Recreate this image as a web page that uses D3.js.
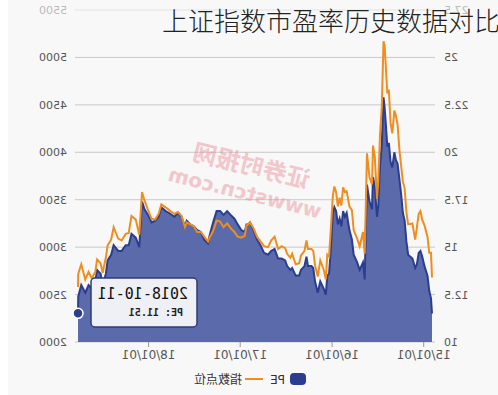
<!DOCTYPE html>
<html>
<head>
<meta charset="utf-8">
<script src="https://cdn.jsdelivr.net/npm/d3@7/dist/d3.min.js"></script>
<style>
  body { margin: 0; background: #ffffff; }
  .chart text { font-family: "DejaVu Sans", sans-serif; }
</style>
</head>
<body>
<div class="chart"></div>
<script>
// Chart data (dates, index points, PE)
var dates = [
  "2014-12-01","2014-12-05","2014-12-12","2014-12-19","2014-12-31","2015-01-09","2015-01-16","2015-01-23",
  "2015-01-30","2015-02-06","2015-02-17","2015-03-06","2015-03-13","2015-03-20","2015-03-27","2015-04-03",
  "2015-04-10","2015-04-17","2015-04-24","2015-04-30","2015-05-08","2015-05-15","2015-05-22","2015-05-28",
  "2015-06-03","2015-06-08","2015-06-12","2015-06-19","2015-06-26","2015-07-03","2015-07-08","2015-07-17",
  "2015-07-24","2015-07-28","2015-08-07","2015-08-17","2015-08-21","2015-08-26","2015-09-02","2015-09-15",
  "2015-09-25","2015-10-09","2015-10-16","2015-10-26","2015-11-06","2015-11-13","2015-11-20","2015-11-27",
  "2015-12-04","2015-12-11","2015-12-18","2015-12-25","2015-12-31","2016-01-08","2016-01-15","2016-01-22",
  "2016-01-28","2016-02-05","2016-02-19","2016-02-29","2016-03-11","2016-03-18","2016-03-25","2016-04-08",
  "2016-04-14","2016-04-22","2016-05-06","2016-05-13","2016-05-27","2016-06-10","2016-06-17","2016-06-30",
  "2016-07-08","2016-07-22","2016-08-05","2016-08-19","2016-09-02","2016-09-14","2016-09-30","2016-10-14",
  "2016-10-28","2016-11-11","2016-11-25","2016-12-02","2016-12-09","2016-12-16","2016-12-30","2017-01-13",
  "2017-01-26","2017-02-10","2017-02-24","2017-03-10","2017-03-24","2017-04-07","2017-04-21","2017-05-05",
  "2017-05-11","2017-05-26","2017-06-09","2017-06-23","2017-07-07","2017-07-21","2017-08-04","2017-08-11",
  "2017-08-25","2017-09-08","2017-09-22","2017-10-13","2017-10-27","2017-11-13","2017-11-24","2017-12-08",
  "2017-12-22","2018-01-05","2018-01-19","2018-01-29","2018-02-09","2018-02-23","2018-03-12","2018-03-23",
  "2018-04-04","2018-04-20","2018-05-04","2018-05-22","2018-06-01","2018-06-15","2018-06-22","2018-07-05",
  "2018-07-13","2018-07-27","2018-08-03","2018-08-17","2018-08-30","2018-09-12","2018-09-28","2018-10-10",
  "2018-10-11"
];

var indexValues = [
  2680,2940,2940,3110,3230,3290,3380,3350,
  3210,3080,3250,3240,3370,3620,3690,3860,
  4030,4290,4390,4440,4200,4310,4660,4620,
  4910,5130,5170,4480,4190,3690,3510,3960,
  4070,3660,3740,3990,3510,2930,3160,3010,
  3090,3180,3390,3430,3590,3580,3630,3440,
  3520,3430,3580,3640,3540,3190,2900,2920,
  2660,2760,2860,2690,2810,2960,2980,2980,
  3070,2960,2910,2830,2820,2930,2890,2930,
  2990,3010,2980,3110,3070,3000,3010,3060,
  3110,3200,3260,3240,3230,3120,3100,3110,
  3160,3200,3250,3210,3270,3280,3170,3100,
  3060,3110,3160,3160,3220,3240,3260,3210,
  3330,3370,3350,3390,3420,3450,3350,3290,
  3300,3390,3490,3580,3130,3290,3330,3150,
  3140,3070,3090,3210,3080,3020,2890,2730,
  2830,2870,2740,2670,2740,2660,2820,2720,
  2580
];

var peValues = [
  11.5,12.3,12.7,13.5,14.0,14.5,14.8,14.7,
  14.1,13.9,14.4,14.6,15.3,16.4,16.8,17.8,
  18.6,19.4,19.6,20.0,19.2,19.5,20.5,20.3,
  21.5,22.4,22.9,20.4,19.3,17.2,16.6,18.2,
  18.7,17.0,17.4,18.3,16.3,13.3,14.2,13.8,
  14.2,14.6,15.4,15.9,16.8,16.6,16.9,16.1,
  16.5,16.2,16.9,17.1,16.8,14.9,13.6,13.5,
  12.5,12.8,13.2,12.6,13.2,13.9,14.0,14.0,
  14.5,14.0,13.8,13.5,13.5,13.9,13.8,14.0,
  14.3,14.4,14.4,14.9,14.8,14.6,14.7,15.1,
  15.4,15.9,16.3,16.2,16.2,15.8,15.9,16.2,
  16.5,16.7,16.9,16.7,16.9,16.9,16.3,15.6,
  15.2,15.4,15.8,15.9,16.1,16.2,16.4,16.1,
  16.6,16.8,16.6,16.8,16.9,17.1,16.6,16.4,
  16.3,16.7,17.0,17.4,15.0,15.5,15.7,15.1,
  15.1,14.8,14.8,15.1,14.6,14.3,13.6,13.0,
  13.6,13.8,13.2,12.8,13.0,12.6,13.0,12.4,
  11.51
];

// Axis ticks
var peTicks = [10, 12.5, 15, 17.5, 20, 22.5, 25, 27.5];
var indexTicks = [2000, 2500, 3000, 3500, 4000, 4500, 5000, 5500];
var dateTicks = ["2015-01-01", "2016-01-01", "2017-01-01", "2018-01-01"];

var title = "上证指数市盈率历史数据对比";
var legendNames = ["PE", "指数点位"];
var tooltipDate = "2018-10-11";

var svgWidth = 498;
var svgHeight = 395;

var parseDate = d3.timeParse("%Y-%m-%d");
var data = dates.map((d, i) => ({ date: parseDate(d), index: indexValues[i], pe: peValues[i] }));

var svg = d3.select(".chart")
  .append("svg")
  .attr("width", svgWidth)
  .attr("height", svgHeight);

// background
svg.append("rect").attr("width", svgWidth).attr("height", svgHeight).attr("fill", "#f8f8f8");
svg.append("rect").attr("width", 8).attr("height", svgHeight).attr("fill", "#ffffff");

// the whole chart is drawn mirrored, title excepted
var chartGroup = svg.append("g")
  .attr("transform", `translate(${svgWidth}, 0) scale(-1, 1)`);

// Scales
var xScale = d3.scaleTime()
  .domain([parseDate("2014-12-01"), parseDate("2018-10-11")])
  .range([66, 420]);
var yPe = d3.scaleLinear().domain([10, 27.5]).range([342, 10]);
var yIndex = d3.scaleLinear().domain([2000, 5500]).range([342, 10]);

// gridlines
chartGroup.selectAll(".grid")
  .data(indexTicks)
  .enter()
  .append("line")
  .attr("x1", 63)
  .attr("x2", 423)
  .attr("y1", d => yIndex(d))
  .attr("y2", d => yIndex(d))
  .attr("stroke", (d, i) => i == indexTicks.length - 1 ? "#e2e2e2" : "#c8c8c8")
  .attr("stroke-width", 1);

// watermark
var mark = chartGroup.append("g")
  .attr("transform", "translate(250, 180) rotate(-14)")
  .attr("fill", "#e98c98")
  .attr("opacity", 0.45);
mark.append("text")
  .attr("x", 0).attr("y", -6)
  .attr("text-anchor", "middle")
  .style("font-family", "Noto Sans CJK SC")
  .style("font-size", "24px")
  .style("font-weight", "bold")
  .text("证券时报网");
mark.append("text")
  .attr("x", 0).attr("y", 20)
  .attr("text-anchor", "middle")
  .style("font-size", "20px")
  .style("font-weight", "bold")
  .text("wwwstcn.com");

// PE area + line
var area = d3.area()
  .x(d => xScale(d.date))
  .y0(yPe(10))
  .y1(d => yPe(d.pe));

chartGroup.append("path")
  .datum(data)
  .attr("d", area)
  .attr("fill", "#5b6aaa");

var peLine = d3.line()
  .x(d => xScale(d.date))
  .y(d => yPe(d.pe));

chartGroup.append("path")
  .datum(data)
  .attr("d", peLine)
  .attr("fill", "none")
  .attr("stroke", "#2b3d90")
  .attr("stroke-width", 2);

// Index line
var indexLine = d3.line()
  .x(d => xScale(d.date))
  .y(d => yIndex(d.index));

chartGroup.append("path")
  .datum(data)
  .attr("d", indexLine)
  .attr("fill", "none")
  .attr("stroke", "#ef8d1f")
  .attr("stroke-width", 2);

// Axes
var leftAxis = d3.axisLeft(yPe).tickValues(peTicks).tickSize(0).tickPadding(9).tickFormat(d3.format("~g"));
var rightAxis = d3.axisRight(yIndex).tickValues(indexTicks).tickSize(0).tickPadding(8).tickFormat(d3.format("d"));
var bottomAxis = d3.axisBottom(xScale)
  .tickValues(dateTicks.map(parseDate))
  .tickSize(5)
  .tickPadding(3)
  .tickFormat(d3.timeFormat("%y/%m/%d"));

var gl = chartGroup.append("g").attr("transform", "translate(63, 0)").call(leftAxis);
var gr = chartGroup.append("g").attr("transform", "translate(423, 0)").call(rightAxis);
var gb = chartGroup.append("g").attr("transform", "translate(0, 342)").call(bottomAxis);

[gl, gr, gb].forEach(g => {
  g.select(".domain").remove();
  g.selectAll("text").attr("fill", "#555").style("font-size", "11px");
  g.selectAll("line").attr("stroke", "#999");
});
gb.selectAll("text").style("font-size", "12px");
gl.selectAll("text").filter(d => d == 27.5).attr("fill", "#bbb");
gr.selectAll("text").filter(d => d == 5500).attr("fill", "#bbb");

// Tooltip
var last = data[data.length - 1];
var tip = chartGroup.append("g");
tip.append("rect")
  .attr("x", 301).attr("y", 278)
  .attr("width", 106).attr("height", 49)
  .attr("rx", 4)
  .attr("fill", "#eef0f6")
  .attr("stroke", "#2f3b72")
  .attr("stroke-width", 1.5);
tip.append("text")
  .attr("x", 310).attr("y", 299)
  .style("font-family", "DejaVu Sans Mono")
  .style("font-size", "15px")
  .attr("fill", "#111")
  .text(tooltipDate);
tip.append("text")
  .attr("x", 315).attr("y", 316)
  .style("font-family", "DejaVu Sans Mono")
  .style("font-size", "10px")
  .style("font-weight", "bold")
  .attr("fill", "#222")
  .text("PE:  " + last.pe);

chartGroup.append("circle")
  .attr("cx", xScale(last.date))
  .attr("cy", yPe(last.pe))
  .attr("r", 5)
  .attr("fill", "#2b3d90")
  .attr("stroke", "#fff")
  .attr("stroke-width", 1.5);

// Legend
var legend = chartGroup.append("g");
legend.append("rect")
  .attr("x", 192).attr("y", 373)
  .attr("width", 16).attr("height", 12)
  .attr("rx", 4)
  .attr("fill", "#2b3d90");
legend.append("text")
  .attr("x", 213).attr("y", 384)
  .style("font-size", "12px")
  .attr("fill", "#333")
  .text(legendNames[0]);
legend.append("line")
  .attr("x1", 235).attr("x2", 253)
  .attr("y1", 379).attr("y2", 379)
  .attr("stroke", "#ef8d1f")
  .attr("stroke-width", 2);
legend.append("text")
  .attr("x", 256).attr("y", 384)
  .style("font-family", "Noto Sans CJK SC")
  .style("font-size", "12px")
  .attr("fill", "#333")
  .text(legendNames[1]);

// Title (not mirrored)
svg.append("text")
  .attr("x", 162)
  .attr("y", 31)
  .style("font-family", "Noto Sans CJK SC")
  .style("font-size", "26px")
  .style("font-weight", "300")
  .attr("fill", "#222")
  .text(title);
</script>
</body>
</html>
